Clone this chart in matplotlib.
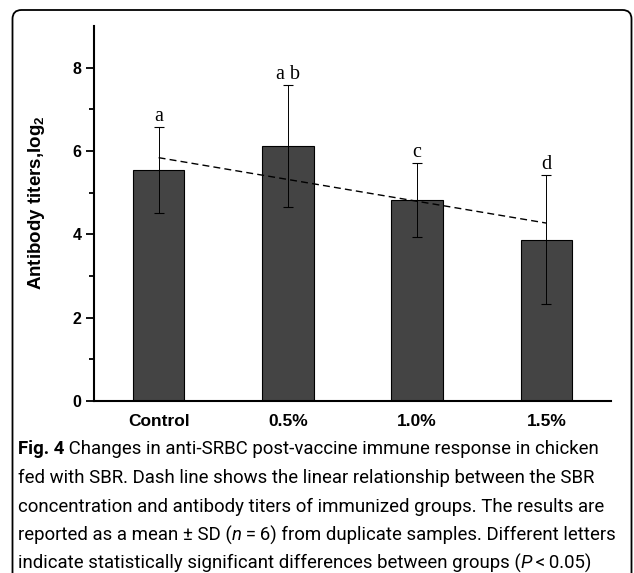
import matplotlib
matplotlib.use("Agg")
import matplotlib.pyplot as plt
from matplotlib.patches import FancyBboxPatch
import numpy as np

groups = ["Control", "0.5%", "1.0%", "1.5%"]
means = [5.55, 6.12, 4.83, 3.87]
sds = [1.03, 1.46, 0.89, 1.55]
letters = ["a", "a b", "c", "d"]
trend_y = [5.84, 4.27]   # dashed linear fit, Control -> 1.5%

caption = [
    [("Fig. 4", "bold", "normal"),
     (" Changes in anti-SRBC post-vaccine immune response in chicken", "normal", "normal")],
    [("fed with SBR. Dash line shows the linear relationship between the SBR", "normal", "normal")],
    [("concentration and antibody titers of immunized groups. The results are", "normal", "normal")],
    [("reported as a mean \u00b1 SD (", "normal", "normal"), ("n", "normal", "italic"),
     ("\u2009=\u20096) from duplicate samples. Different letters", "normal", "normal")],
    [("indicate statistically significant differences between groups (", "normal", "normal"),
     ("P", "normal", "italic"), ("\u2009<\u20090.05)", "normal", "normal")],
]

plt.rcParams['font.family'] = ['Liberation Sans', 'DejaVu Sans']
plt.rcParams['mathtext.fontset'] = 'custom'
plt.rcParams['mathtext.bf'] = 'Liberation Sans:bold'

W, H = 634, 573
fig = plt.figure(figsize=(W / 100, H / 100), dpi=100)

# rounded frame around figure + caption
frame = FancyBboxPatch((0.125, -0.5), 6.19, 6.13, boxstyle="round,pad=0,rounding_size=0.09",
                       transform=fig.dpi_scale_trans, fill=False, edgecolor='black', linewidth=1.3)
fig.patches.append(frame)

ax = fig.add_axes([94 / W, 1 - 401 / H, (611 - 94) / W, (401 - 26) / H])
x = np.arange(len(groups))
ax.bar(x, means, width=0.4, color='#444444', edgecolor='black', linewidth=0.8, zorder=2)
ax.errorbar(x, means, yerr=sds, fmt='none', ecolor='black', elinewidth=0.7,
            capsize=3.5, capthick=0.8, zorder=3)
ax.plot([x[0], x[-1]], trend_y, color='black', linestyle=(0, (5, 3)), linewidth=1.0, zorder=4)
for xi, m, s, lab in zip(x, means, sds, letters):
    ax.text(xi, m + s + 0.02, lab, ha='center', va='bottom',
            family='Liberation Serif', fontsize=14.5)

ax.set_xlim(-0.5, 3.5)
ax.set_ylim(0, 9)
ax.spines['top'].set_visible(False)
ax.spines['right'].set_visible(False)
for side in ['left', 'bottom']:
    ax.spines[side].set_linewidth(1.5)

ax.set_yticks([0, 2, 4, 6, 8])
ax.set_yticks([1, 3, 5, 7], minor=True)
ax.tick_params(axis='y', which='major', length=6, width=1.3, labelsize=11.5, pad=3)
ax.tick_params(axis='y', which='minor', length=3.5, width=1.3)
ax.set_xticks(x)
ax.set_xticklabels(groups)
ax.tick_params(axis='x', length=0, labelsize=12.5, pad=9)
for lbl in ax.get_xticklabels() + ax.get_yticklabels():
    lbl.set_fontweight('bold')

ax.set_ylabel(r'Antibody titers,log$_{\mathbf{2}}$', fontsize=13.5, fontweight='bold')
ax.yaxis.set_label_coords(-0.091, 0.53)

# caption, drawn run by run so the bold / italic parts line up
renderer = fig.canvas.get_renderer()
line_y = [449, 478, 507, 535, 563]
for yy, runs in zip(line_y, caption):
    xx = 18
    for txt, weight, style in runs:
        t = fig.text(xx / W, 1 - yy / H, txt, fontsize=13.4, family=['Roboto', 'DejaVu Sans'],
                     fontweight=weight, fontstyle=style, va='center', ha='left')
        bb = t.get_window_extent(renderer=renderer)
        xx += bb.width

fig.savefig('out.png', dpi=100)
